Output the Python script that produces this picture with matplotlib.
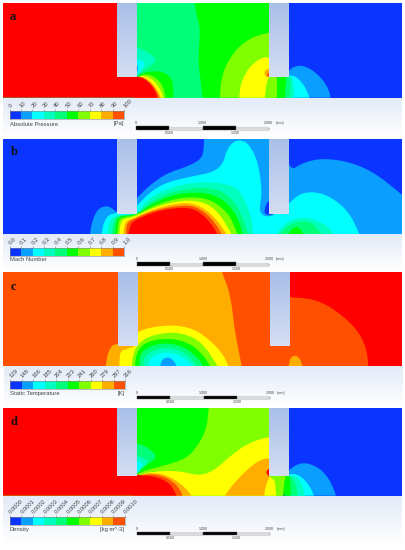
import numpy as np
import matplotlib
matplotlib.use('Agg')
import matplotlib.pyplot as plt

plt.rcParams['font.family'] = ['Liberation Sans', 'DejaVu Sans']

W, H = 405, 550

# colores de las bandas (0-9 leyenda, 10 = fuera de escala)
BANDAS = ['#0a34ff', '#0a9eff', '#00ffff', '#00ffbe', '#00ff78', '#00ff00',
          '#80ff00', '#ffff00', '#ffae00', '#ff5000', '#ff0000']

# Isolineas: (banda, contorno), en unidades de 1/3 px,
# en orden de pintado. Primer y ultimo punto sobre el borde inferior.
CONTORNOS_A = [
    (5, [(608,293),(600,230),(595,180),(598,130),(600,80),(590,50),(577,-40),(900,-40),(900,293)]),
    (6, [(660,293),(663,240),(680,190),(715,140),(760,110),(806,98),(830,95),(830,293)]),
    (7, [(718,293),(722,250),(745,205),(775,178),(806,168),(830,200),(806,232),(800,250),(795,293)]),
    (8, [(830,205),(806,205),(795,212),(793,225),(806,234),(830,234)]),
    (9, [(830,218),(806,218),(799,224),(806,232),(830,232)]),
    (0, [(850,293),(850,-60),(1300,-60),(1300,293)]),
    (1, [(855,293),(850,230),(864,215),(880,200),(905,196),(935,208),(965,235),(985,265),(992,293)]),
    (2, [(860,293),(858,228),(880,226),(900,240),(918,265),(928,293)]),
    (3, [(860,293),(860,228),(875,226),(882,260),(882,293)]),
    (4, [(850,293),(852,228),(868,228),(872,260),(870,293)]),
    (6, [(795,293),(800,250),(806,232),(820,225),(830,232),(832,260),(830,293)]),
    (5, [(830,293),(832,260),(830,225),(860,225),(856,260),(855,293)]),
    (3, [(380,140),(408,140),(440,155),(472,178),(455,195),(408,226),(380,226)]),
    (2, [(380,178),(408,178),(425,181),(437,190),(418,220),(408,226),(380,226)]),
    (1, [(380,190),(408,190),(414,198),(414,212),(408,222),(380,222)]),
    (5, [(520,293),(520,260),(515,235),(490,215),(450,213),(412,225),(400,293)]),
    (6, [(497,293),(490,260),(470,235),(445,222),(415,226),(400,293)]),
    (7, [(490,293),(482,270),(465,245),(440,228),(412,228),(400,293)]),
    (8, [(483,293),(475,275),(458,250),(435,232),(412,229),(400,293)]),
    (9, [(478,293),(472,278),(455,253),(432,233),(412,229),(400,293)]),
    (10, [(472,293),(465,270),(450,250),(430,235),(412,230),(380,215),(380,-60),(-60,-60),(-60,293)]),
]
CONTORNOS_B = [
    (1, [(270,298),(275,265),(290,225),(315,212),(335,218),(352,235),(380,215),(410,190),(450,150),(500,115),(560,95),(600,75),(612,50),(612,-40),(830,-40),(867,110),(905,85),(960,70),(1040,78),(1120,110),(1205,178),(1300,260),(1300,298)]),
    (2, [(305,298),(310,265),(325,240),(345,235),(380,230),(410,215),(440,180),(490,145),(570,125),(640,112),(670,85),(680,45),(700,20),(720,15),(745,25),(770,70),(782,130),(785,180),(780,210),(780,232),(795,245),(820,242),(850,220),(867,205),(900,175),(950,170),(1000,190),(1050,235),(1078,298)]),
    (0, [(830,235),(808,195),(800,205),(793,225),(795,237),(808,240)]),
    (3, [(322,298),(327,262),(345,240),(410,238),(440,195),(490,165),(560,145),(640,140),(710,155),(735,195),(755,250),(760,298)]),
    (4, [(335,298),(340,262),(352,242),(410,240),(445,205),(500,175),(570,160),(630,158),(680,175),(720,225),(745,298)]),
    (5, [(345,298),(348,262),(357,243),(408,240),(450,210),(510,182),(570,172),(630,175),(680,200),(715,250),(728,298)]),
    (6, [(352,298),(355,262),(362,248),(405,242),(455,215),(520,192),(580,185),(635,195),(680,230),(700,265),(712,298)]),
    (7, [(358,298),(362,262),(372,252),(405,245),(460,218),(525,200),(580,195),(630,210),(665,245),(695,298)]),
    (8, [(370,298),(374,265),(385,255),(405,248),(462,222),(530,205),(580,205),(620,225),(655,260),(680,298)]),
    (9, [(378,298),(380,268),(390,258),(405,250),(465,225),(535,212),(580,212),(620,235),(650,270),(665,298)]),
    (10, [(385,298),(392,268),(405,255),(470,228),(535,218),(580,220),(615,245),(640,275),(652,298)]),
    (3, [(830,298),(850,270),(880,252),(920,248),(960,260),(990,280),(1000,298)]),
    (4, [(840,298),(860,275),(885,262),(920,258),(945,270),(965,298)]),
    (5, [(865,298),(875,282),(890,275),(900,280),(910,298)]),
]
CONTORNOS_C = [
    (10, [(1105,273),(1100,220),(1070,160),(1000,100),(940,72),(870,66),(840,66),(840,-60),(1300,-60),(1300,273)]),
    (8, [(725,273),(705,170),(700,130),(695,90),(685,40),(665,-9),(655,-60),(390,-60),(390,200),(354,207),(335,210),(322,240),(317,273)]),
    (7, [(685,273),(670,240),(640,205),(590,165),(530,150),(460,155),(412,170),(390,190),(400,205),(405,214),(380,222),(360,228),(358,273)]),
    (6, [(652,273),(620,220),(580,185),(520,170),(450,182),(415,205),(400,235),(395,273)]),
    (5, [(630,273),(610,240),(570,205),(515,190),(460,195),(425,210),(408,240),(405,273)]),
    (4, [(610,273),(595,250),(560,220),(515,205),(470,207),(435,222),(420,240),(418,273)]),
    (3, [(590,273),(565,240),(530,222),(490,218),(450,230),(432,248),(430,273)]),
    (2, [(578,273),(555,250),(520,233),(480,233),(450,250),(445,273)]),
    (1, [(530,273),(520,255),(505,246),(487,252),(480,273)]),
    (8, [(866,273),(870,250),(885,240),(900,250),(907,273)]),
]
CONTORNOS_D = [
    (5, [(390,170),(390,-60),(630,-60),(626,-21),(620,40),(595,90),(560,130),(500,150),(440,165),(405,180)]),
    (4, [(390,85),(411,85),(440,95),(475,125),(440,150),(411,175),(390,175)]),
    (3, [(390,120),(411,122),(435,130),(445,140),(425,160),(411,178),(390,175)]),
    (2, [(390,135),(410,135),(430,145),(418,165),(411,178),(390,175)]),
    (7, [(530,242),(500,200),(460,180),(411,180),(470,168),(540,168),(600,183),(645,165),(700,115),(750,82),(808,65),(830,65),(830,190),(825,195),(828,242)]),
    (8, [(675,242),(695,212),(745,160),(780,135),(808,128),(830,140),(808,185),(795,220),(793,242)]),
    (10, [(830,160),(805,160),(797,173),(808,186),(830,186)]),
    (8, [(575,242),(550,212),(510,185),(465,172),(411,180),(400,242)]),
    (9, [(548,242),(535,215),(505,190),(465,177),(411,180),(400,242)]),
    (10, [(530,242),(510,205),(470,185),(411,180),(380,170),(380,-60),(-60,-60),(-60,242)]),
    (0, [(850,242),(850,-60),(1300,-60),(1300,242)]),
    (1, [(855,242),(855,180),(867,165),(890,148),(920,143),(960,160),(990,195),(1008,242)]),
    (2, [(860,242),(860,180),(885,175),(910,190),(930,215),(942,242)]),
    (3, [(865,242),(862,180),(890,183),(905,205),(915,242)]),
    (4, [(865,242),(862,180),(880,190),(890,215),(892,242)]),
    (6, [(828,242),(828,200),(808,185),(808,175),(860,175),(855,200),(850,242)]),
    (5, [(850,242),(852,205),(858,178),(868,178),(872,210),(872,242)]),
]

TICKS_A = ['0', '10', '20', '30', '40', '50', '60', '70', '80', '90', '100']
TICKS_B = ['0.0', '0.1', '0.2', '0.3', '0.4', '0.5', '0.6', '0.7', '0.8', '0.9', '1.0']
TICKS_C = ['129', '148', '166', '185', '204', '223', '241', '260', '279', '297', '316']
TICKS_D = ['0.0000', '0.0001', '0.0002', '0.0003', '0.0004', '0.0005', '0.0006', '0.0007', '0.0008', '0.0009', '0.0010']

ESCALA_MM = [0, 0.5, 1.0, 1.5, 2.0]

fig = plt.figure(figsize=(W / 100, H / 100), dpi=100, facecolor='white')


def px_axes(x0, y0, x1, y1, **kw):
    # ejes dados en pixeles de la imagen (y hacia abajo)
    return fig.add_axes([x0 / W, 1 - y1 / H, (x1 - x0) / W, (y1 - y0) / H], **kw)


def suavizar(pts, n=3):
    # Chaikin sobre curva abierta, extremos fijos; vertices fuera de vista quedan en esquina
    dobles = []
    for x, y in pts:
        dobles.append((x, y))
        if y < -30 or x > 1250 or x < 0:
            dobles.append((x, y))
    p = np.array(dobles, float)
    for _ in range(n):
        q = 0.75 * p[:-1] + 0.25 * p[1:]
        r = 0.25 * p[:-1] + 0.75 * p[1:]
        m = np.empty((2 * len(q), 2))
        m[0::2] = q
        m[1::2] = r
        p = np.vstack([p[0], m, p[-1]])
    return p


def panel(caja, zoom_y, base, contornos, pilares, pie, letra, letra_xy):
    x0, y0, x1, y1 = caja
    # las coordenadas de los contornos van en 1/3 px con origen en el recorte
    ax = px_axes(x0, y0, x1, y1)
    ax.axis('off')
    ax.add_patch(plt.Rectangle((-100, -100), 1600, 600, color=BANDAS[base], lw=0, zorder=0))
    for i, (b, pts) in enumerate(contornos):
        c = suavizar(pts)
        ax.fill(c[:, 0], c[:, 1], color=BANDAS[b], lw=0, zorder=1 + i * 0.01)
    # pilares con degradado
    grad = np.linspace(0, 1, 64)[:, None]
    arriba = np.array([0.66, 0.75, 0.91])
    abajo = np.array([0.83, 0.87, 0.95])
    colores = arriba + grad * (abajo - arriba)
    for xa, xb, yb in pilares:
        ax.imshow(colores[:, None, :], extent=(xa, xb, yb, (y0 - zoom_y) * 3), aspect='auto', zorder=5, interpolation='bilinear')
    ax.set_xlim(x0 * 3, x1 * 3)
    ax.set_ylim((y1 - zoom_y) * 3, (y0 - zoom_y) * 3)
    fig.text(letra_xy[0] / W, 1 - letra_xy[1] / H, letra, family='Liberation Serif', fontweight='bold',
             fontsize=9, color='#111111', ha='center', va='center')
    # franja degradada bajo el panel
    s = px_axes(x0, y1, x1, pie)
    tono = np.array([0.89, 0.92, 0.97])
    s.imshow(tono + np.linspace(0, 1, 32)[:, None, None] * (1 - tono), aspect='auto', interpolation='bilinear')
    s.axis('off')


def leyenda(barra, ticks, nombre, unidad, y_txt):
    x0, y0, x1, y1 = barra
    ax = px_axes(x0, y0, x1, y1)
    ax.bar(np.arange(10), 1, width=1, align='edge', color=BANDAS[:10], lw=0)
    ax.set_xlim(0, 10)
    ax.set_ylim(0, 1)
    ax.set_yticks([])
    ax.xaxis.tick_top()
    ax.set_xticks(np.arange(11), ticks, rotation=45, ha='left', va='center',
                  rotation_mode='anchor', fontsize=4.2, color='#444444')
    ax.tick_params(axis='x', length=1.5, width=0.4, pad=1.2, color='#777777')
    for sp in ax.spines.values():
        sp.set_linewidth(0.4)
        sp.set_color('#888888')
    fig.text(x0 / W, 1 - y_txt / H, nombre, fontsize=4.2, color='#444444', va='center')
    fig.text(x1 / W, 1 - y_txt / H, unidad, fontsize=4.2, color='#444444', va='center', ha='right')


def escala(barra):
    x0, y0, x1, y1 = barra
    ax = px_axes(x0, y0, x1, y1)
    ax.set_xlim(ESCALA_MM[0], ESCALA_MM[-1])
    ax.set_ylim(0, 1)
    ax.axis('off')
    for k in range(4):
        negro = k % 2 == 0
        ax.bar(ESCALA_MM[k], 1 if negro else 0.5, width=0.5, align='edge', color='black' if negro else 'white',
               edgecolor='#555555', lw=0.3, clip_on=False)
    for v, txt in [(0, '0'), (1, '1.000'), (2, '2.000')]:
        ax.text(v, 1.3, txt, fontsize=2.6, color='#444444', ha='center', va='bottom', clip_on=False)
    ax.text(2.1, 1.3, '(mm)', fontsize=2.6, color='#444444', ha='left', va='bottom', clip_on=False)
    for v, txt in [(0.5, '0.500'), (1.5, '1.500')]:
        ax.text(v, -0.3, txt, fontsize=2.6, color='#444444', ha='center', va='top', clip_on=False)


panel((3, 3.3, 401.7, 97.7), 0, 4, CONTORNOS_A, [(351, 408, 232), (806, 864, 232)], 139, 'a', (13, 17))
panel((3.3, 139, 402, 234.3), 135, 0, CONTORNOS_B, [(352, 410, 238), (808, 867, 238)], 272, 'b', (14, 152))
panel((3.5, 272, 402, 366), 275, 9, CONTORNOS_C, [(354, 412, 212), (810, 869, 212)], 408, 'c', (13, 287))
panel((3.4, 408, 402, 495.7), 415, 6, CONTORNOS_D, [(352, 411, 183), (808, 867, 183)], 545, 'd', (14, 422))

leyenda((9.5, 111, 124, 119.3), TICKS_A, 'Absolute Pressure', '[Pa]', 124)
leyenda((9.7, 247.7, 124, 255.7), TICKS_B, 'Mach Number', '', 260)
leyenda((10, 380.7, 125, 389), TICKS_C, 'Static Temperature', '[K]', 393.3)
leyenda((10, 517, 124.5, 525.3), TICKS_D, 'Density', '[kg m^-3]', 529.7)

escala((136.3, 126.3, 268.7, 129.7))
escala((136.7, 262.3, 269.3, 265.7))
escala((137.3, 395.7, 270, 399))
escala((137, 531.7, 269.7, 534.7))

fig.savefig('out.png', dpi=100)
